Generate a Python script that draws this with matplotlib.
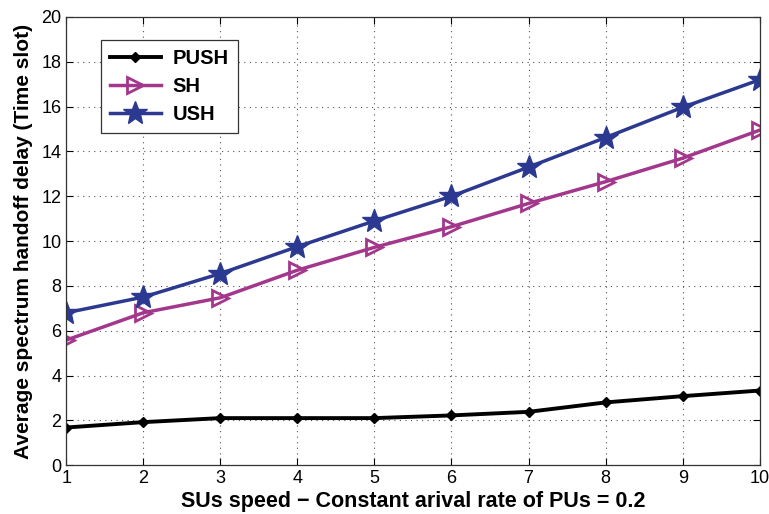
import matplotlib
matplotlib.use("Agg")
import matplotlib.pyplot as plt

x = [1, 2, 3, 4, 5, 6, 7, 8, 9, 10]
push = [1.68, 1.92, 2.1, 2.1, 2.1, 2.22, 2.38, 2.8, 3.08, 3.33]
sh = [5.58, 6.8, 7.47, 8.7, 9.72, 10.64, 11.68, 12.65, 13.7, 14.95]
ush = [6.8, 7.5, 8.55, 9.75, 10.9, 12.0, 13.3, 14.62, 15.97, 17.2]

plt.rcParams['font.family'] = ['Liberation Sans', 'DejaVu Sans']
fig = plt.figure(figsize=(7.69, 5.14), dpi=100)
ax = fig.add_axes([0.086, 0.095, 0.902, 0.872])

ax.plot(x, push, color='black', lw=2.8, marker='D', ms=5.5, label='PUSH')
ax.plot(x, sh, color='#A3378C', lw=2.5, marker='>', ms=11, mfc='none', mew=2, label='SH')
ax.plot(x, ush, color='#2B3990', lw=2.5, marker='*', ms=18, label='USH')

ax.set_xlim(1, 10)
ax.set_ylim(0, 20)
ax.set_xticks(x)
ax.set_yticks(range(0, 21, 2))
ax.grid(True, linestyle=(0, (1, 4)), color='#555555', lw=0.8)
ax.tick_params(direction='in', top=True, right=True, labelsize=13, length=5, width=0.8)
for s in ax.spines.values():
    s.set_linewidth(0.9)
    s.set_color('#333333')

ax.set_xlabel('SUs speed − Constant arival rate of PUs = 0.2', fontsize=15.5, fontweight='bold', labelpad=3)
ax.set_ylabel('Average spectrum handoff delay (Time slot)', fontsize=15, fontweight='bold', labelpad=6)

leg = ax.legend(loc='upper left', bbox_to_anchor=(0.036, 0.972), prop={'weight': 'bold', 'size': 14.5},
                fancybox=False, edgecolor='#333333', framealpha=1, handlelength=2.5, borderpad=0.45,
                labelspacing=0.45, handletextpad=0.6)
leg.get_frame().set_linewidth(0.9)

fig.savefig('out.png', dpi=100)
